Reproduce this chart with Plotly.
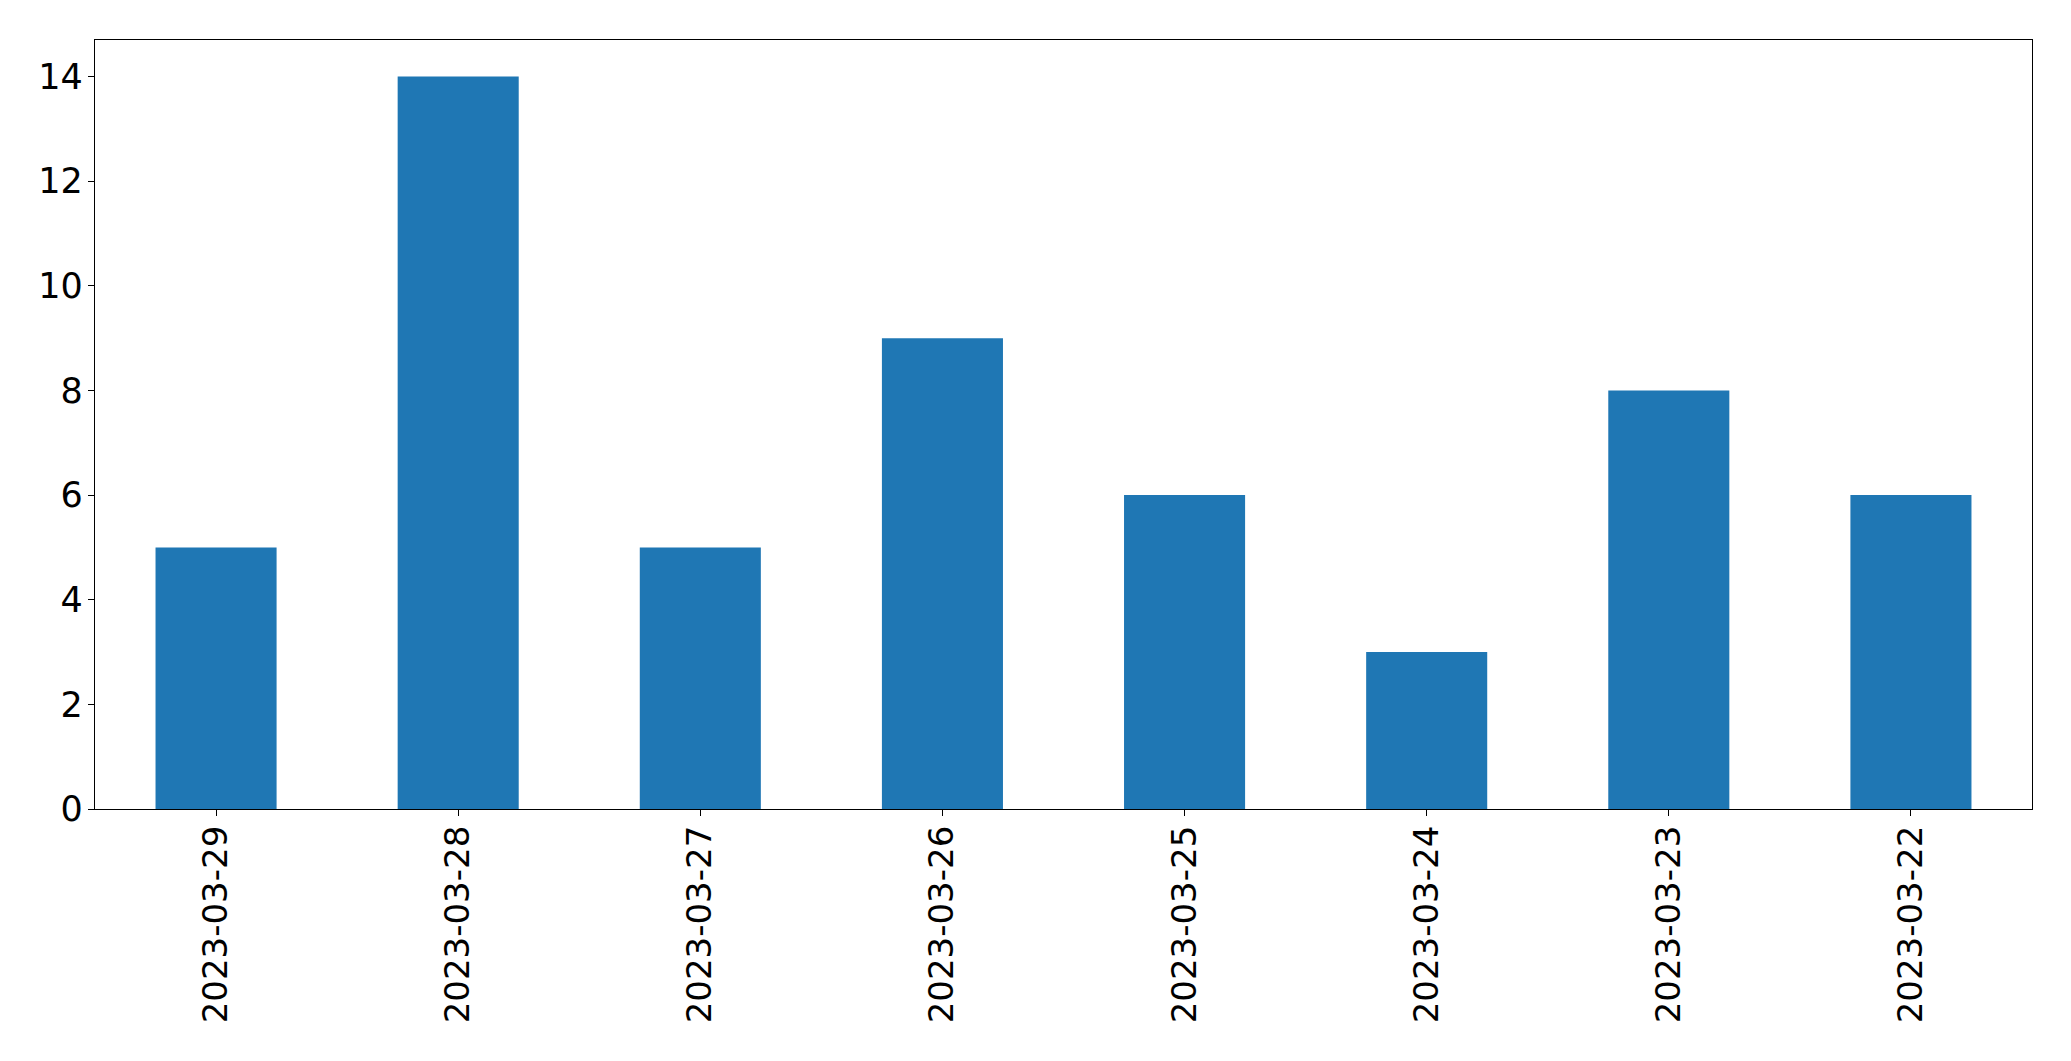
import plotly.graph_objects as go

dates = ["2023-03-29", "2023-03-28", "2023-03-27", "2023-03-26",
         "2023-03-25", "2023-03-24", "2023-03-23", "2023-03-22"]
counts = [5, 14, 5, 9, 6, 3, 8, 6]
y_ticks = [0, 2, 4, 6, 8, 10, 12, 14]

fig = go.Figure(go.Bar(x=list(range(len(dates))), y=counts, width=0.5,
                       marker=dict(color="#1f77b4", line=dict(width=0))))

axis_common = dict(showline=True, linecolor="black", linewidth=1.3, mirror=True,
                   ticks="outside", ticklen=6, tickwidth=1.3, tickcolor="black",
                   showgrid=False, zeroline=False)

fig.update_layout(
    width=2071, height=1061,
    margin=dict(l=86.5, r=47, t=31.5, b=260, autoexpand=False),
    paper_bgcolor="white", plot_bgcolor="white",
    showlegend=False,
    xaxis=dict(range=[-0.5, 7.5], tickmode="array", tickvals=list(range(len(dates))),
               ticktext=dates, tickangle=-90, automargin=False, ticklabelstandoff=-4,
               tickfont=dict(family="DejaVu Sans", size=34, color="black"),
               **axis_common),
    yaxis=dict(range=[0, 14.7], tickmode="array", tickvals=y_ticks,
               ticktext=[str(v) for v in y_ticks], automargin=False, ticklabelstandoff=-2,
               tickfont=dict(family="DejaVu Sans", size=35, color="black"),
               **axis_common),
)

fig.write_html("out.html")
